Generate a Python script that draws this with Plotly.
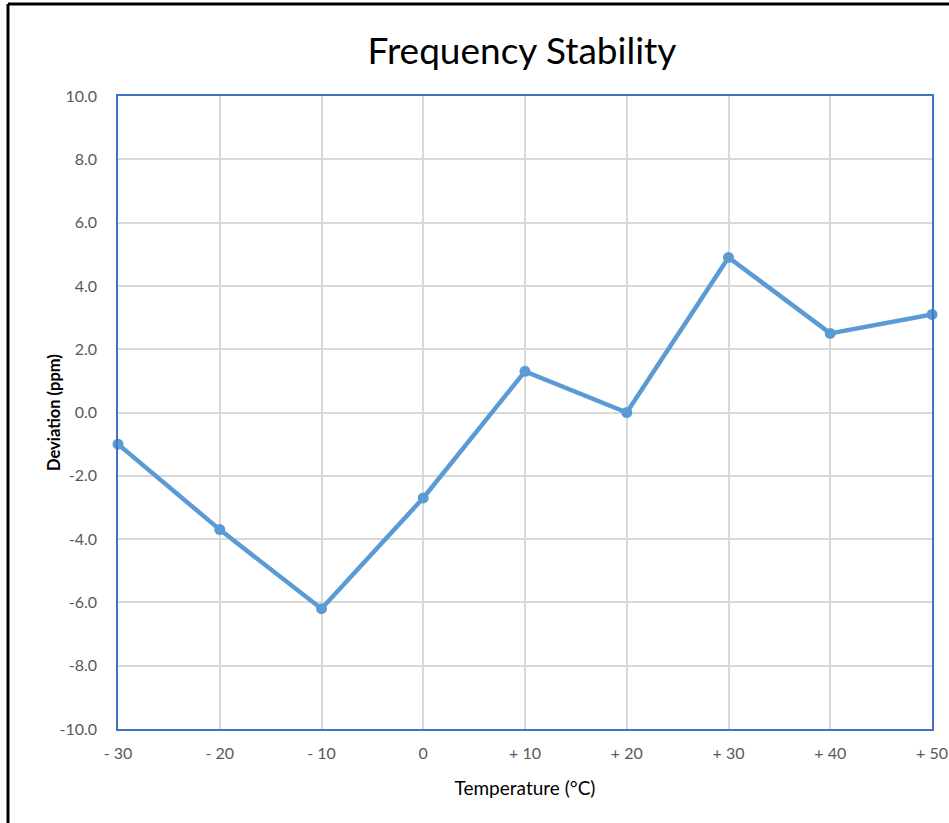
import plotly.graph_objects as go

temps = [-30, -20, -10, 0, 10, 20, 30, 40, 50]
tick_text = ["- 30", "- 20", "- 10", "0", "+ 10", "+ 20", "+ 30", "+ 40", "+ 50"]
deviation = [-1.0, -3.7, -6.2, -2.7, 1.3, 0.0, 4.9, 2.5, 3.1]
y_ticks = [-10, -8, -6, -4, -2, 0, 2, 4, 6, 8, 10]
y_tick_text = ["%.1f" % v for v in y_ticks]

W, H = 949, 823
L, R, T, B = 118, 17, 96, 94
pw, ph = W - L - R, H - T - B

def px(x):
    return (x - L) / pw

def py(y):
    return (H - B - y) / ph

FONT = "Lato"

fig = go.Figure()
fig.add_trace(go.Scatter(
    x=temps, y=deviation, mode="lines+markers",
    line=dict(color="#5B9BD5", width=4.5),
    marker=dict(color="#5B9BD5", size=11),
    cliponaxis=False, showlegend=False,
))

fig.update_layout(
    width=W, height=H,
    margin=dict(l=L, r=R, t=T, b=B, autoexpand=False),
    paper_bgcolor="white", plot_bgcolor="white",
    font=dict(family=FONT, color="#595959"),
    title=dict(text="Frequency Stability", x=522 / W, xanchor="center",
               y=1 - 51 / H, yanchor="middle",
               font=dict(family=FONT, size=37, color="#000000")),
    xaxis=dict(range=[-30, 50], tickvals=temps, ticktext=tick_text,
               showgrid=True, gridcolor="#D9D9D9", gridwidth=1.5,
               showline=True, linecolor="#4472C4", linewidth=1.5, mirror=True,
               zeroline=False, ticks="", ticklabelstandoff=9,
               tickfont=dict(size=16, color="#595959"),
               title=dict(text="Temperature (°C)", standoff=21,
                          font=dict(size=19, color="#000000"))),
    yaxis=dict(range=[-10, 10], tickvals=y_ticks, ticktext=y_tick_text,
               showgrid=True, gridcolor="#D9D9D9", gridwidth=1.5,
               showline=True, linecolor="#4472C4", linewidth=1.5, mirror=True,
               zeroline=False, ticks="", ticklabelstandoff=16,
               tickfont=dict(size=16, color="#595959")),
    annotations=[
        dict(text="<b>Deviation (ppm)</b>", textangle=-90, showarrow=False,
             xref="paper", yref="paper", x=px(54), y=py(413),
             xanchor="center", yanchor="middle",
             font=dict(family=FONT, size=16.5, color="#000000")),
    ],
    shapes=[
        dict(type="line", xref="paper", yref="paper",
             x0=px(8), x1=px(8), y0=py(H + 5), y1=py(4),
             line=dict(color="black", width=3)),
        dict(type="line", xref="paper", yref="paper",
             x0=px(8), x1=px(W + 5), y0=py(4), y1=py(4),
             line=dict(color="black", width=3)),
    ],
)

fig.write_html("out.html", config={"displayModeBar": False},
               post_script="document.body.style.margin='0';document.body.style.overflow='hidden';")
